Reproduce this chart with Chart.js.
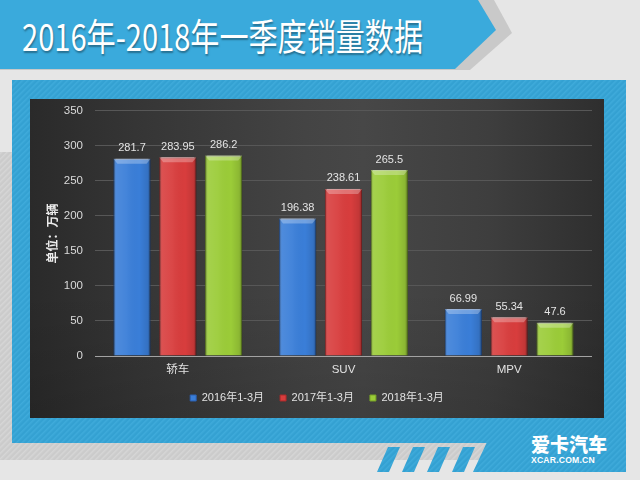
<!DOCTYPE html>
<html>
<head>
<meta charset="utf-8">
<script src="https://cdn.jsdelivr.net/npm/chart.js@4/dist/chart.umd.min.js"></script>
<style>
  html, body { margin:0; padding:0; }
  body { width:640px; height:480px; position:relative; overflow:hidden; background:#e6e6e6; font-family:"Liberation Sans","Noto Sans CJK SC",sans-serif; }
  #deco { position:absolute; left:0; top:0; }
  #title { position:absolute; left:22px; top:15px; height:40px; line-height:40px; white-space:nowrap; color:#fff;
           font-family:"Noto Sans CJK SC","Noto Sans",sans-serif; font-size:37px; font-weight:400;
           text-shadow:1px 2px 2px rgba(0,0,0,0.35); transform-origin:left center; }
  #panel { position:absolute; left:30px; top:99px; width:574px; height:319px;
           background:linear-gradient(90deg,#2a2a2a 0%,#363636 20%,#444444 48%,#474747 58%,#3e3e3e 80%,#2e2e2e 100%); }
  #panel::after { content:""; position:absolute; inset:0; background:linear-gradient(180deg,rgba(0,0,0,0) 60%,rgba(0,0,0,0.12) 100%); pointer-events:none; }
  #wrap { position:absolute; left:30px; top:92px; width:574px; height:326px; }
  #logo1 { position:absolute; left:531px; top:433px; color:#fff; font-family:"Noto Sans CJK SC",sans-serif; font-weight:900; font-size:19px; letter-spacing:0px; line-height:22px; white-space:nowrap; }
  #logo2 { position:absolute; left:531px; top:455px; color:#fff; font-family:"Liberation Sans",sans-serif; font-weight:700; font-size:8.6px; letter-spacing:0.2px; line-height:10px; white-space:nowrap; }
</style>
</head>
<body>
<svg id="deco" width="640" height="480" xmlns="http://www.w3.org/2000/svg">
  <defs>
    <pattern id="hatchGray" width="4" height="4" patternUnits="userSpaceOnUse" patternTransform="rotate(45)">
      <rect width="4" height="4" fill="#cbcbcb"/>
      <rect width="1.5" height="4" fill="#d6d6d6"/>
    </pattern>
    <pattern id="hatchBlue" width="4" height="4" patternUnits="userSpaceOnUse" patternTransform="rotate(45)">
      <rect width="4" height="4" fill="#34a1d2"/>
      <rect width="1.5" height="4" fill="#3fabdb"/>
    </pattern>
  </defs>
  <rect x="0" y="152" width="500" height="308" fill="url(#hatchGray)"/>
  <polygon points="0,0 494,0 512,33 470,70 0,70" fill="#c9c9c9"/>
  <polygon points="0,0 478,0 496,30 455,69 0,69" fill="#3aaadc"/>
  <rect x="12" y="80" width="614" height="363" fill="url(#hatchBlue)"/>
  <polygon points="487,442 626,442 626,472 473,472" fill="url(#hatchBlue)"/>
  <polygon points="377,472 389,472 400,447 388,447" fill="url(#hatchBlue)"/>
  <polygon points="402,472 414,472 425,447 413,447" fill="url(#hatchBlue)"/>
  <polygon points="427,472 439,472 450,447 438,447" fill="url(#hatchBlue)"/>
  <polygon points="452,472 464,472 475,447 463,447" fill="url(#hatchBlue)"/>
</svg>
<div id="title"><span id="titleText">2016年-2018年一季度销量数据</span></div>
<div id="panel"></div>
<div id="wrap"><canvas id="c"></canvas></div>
<div id="logo1">爱卡汽车</div>
<div id="logo2">XCAR.COM.CN</div>
<script>
// ---- data ----
const categories = ['轿车', 'SUV', 'MPV'];
const seriesNames = ['2016年1-3月', '2017年1-3月', '2018年1-3月'];
const sales2016 = [281.7, 196.38, 66.99];
const sales2017 = [283.95, 238.61, 55.34];
const sales2018 = [286.2, 265.5, 47.6];
const yTickValues = [0, 50, 100, 150, 200, 250, 300, 350];
const yAxisTitle = '单位：万辆';

// fit title width
(function(){
  const t = document.getElementById('title');
  const s = document.getElementById('titleText');
  const w = s.getBoundingClientRect().width;
  if (w > 0) t.style.transform = 'scaleX(' + (401 / w) + ')';
})();

const barColors = ['#3a7ed8', '#d83d3d', '#9bcc38'];
const barBorders = ['#2a5fae', '#a82b2b', '#77a126'];
const FONT = '"Liberation Sans","Noto Sans CJK SC",sans-serif';

const bevelPlugin = {
  id: 'bevel',
  afterDatasetsDraw(chart) {
    const ctx = chart.ctx;
    chart.data.datasets.forEach((ds, di) => {
      const meta = chart.getDatasetMeta(di);
      meta.data.forEach((bar, i) => {
        const p = bar.getProps(['x', 'y', 'width', 'base'], true);
        const l = p.x - p.width / 2, r = p.x + p.width / 2, t = p.y, b = p.base;
        ctx.save();
        const g = ctx.createLinearGradient(l, 0, r, 0);
        g.addColorStop(0, 'rgba(0,0,0,0.30)');
        g.addColorStop(0.08, 'rgba(255,255,255,0.10)');
        g.addColorStop(0.35, 'rgba(255,255,255,0.05)');
        g.addColorStop(0.7, 'rgba(0,0,0,0.0)');
        g.addColorStop(0.92, 'rgba(0,0,0,0.10)');
        g.addColorStop(1, 'rgba(0,0,0,0.35)');
        ctx.fillStyle = g;
        ctx.fillRect(l, t, r - l, b - t);
        ctx.beginPath();
        ctx.moveTo(l, t); ctx.lineTo(r, t); ctx.lineTo(r - 4, t + 5); ctx.lineTo(l + 4, t + 5); ctx.closePath();
        ctx.fillStyle = 'rgba(255,255,255,0.28)';
        ctx.fill();
        ctx.fillStyle = 'rgba(255,255,255,0.35)';
        ctx.fillRect(l + 2, t, r - l - 4, 1);
        ctx.restore();

        ctx.save();
        ctx.fillStyle = '#e4e4e4';
        ctx.font = '11px "Liberation Sans", sans-serif';
        ctx.textAlign = 'center';
        ctx.textBaseline = 'bottom';
        ctx.fillText(String(ds.data[i]), p.x, t - 5);
        ctx.restore();
      });
    });
  }
};

new Chart(document.getElementById('c'), {
  type: 'bar',
  data: {
    labels: categories,
    datasets: [
      { label: seriesNames[0], data: sales2016, backgroundColor: barColors[0], borderColor: barBorders[0], borderWidth: 1 },
      { label: seriesNames[1], data: sales2017, backgroundColor: barColors[1], borderColor: barBorders[1], borderWidth: 1 },
      { label: seriesNames[2], data: sales2018, backgroundColor: barColors[2], borderColor: barBorders[2], borderWidth: 1 }
    ]
  },
  options: {
    responsive: true,
    maintainAspectRatio: false,
    animation: false,
    layout: { padding: { top: 0, right: 12, left: 12, bottom: 4.5 } },
    datasets: { bar: { categoryPercentage: 0.83, barPercentage: 0.81 } },
    plugins: {
      tooltip: { enabled: false },
      legend: {
        position: 'bottom',
        labels: {
          color: '#e2e2e2',
          font: { size: 11, family: FONT },
          boxWidth: 6, boxHeight: 6, padding: 16
        }
      }
    },
    scales: {
      x: {
        grid: { display: false, drawTicks: false },
        border: { display: false },
        ticks: { color: '#e2e2e2', font: { size: 11.5, family: FONT }, padding: 6.5 },
        afterFit: (s) => { s.height = 20.5; }
      },
      y: {
        min: 0, max: 350,
        afterBuildTicks: (s) => { s.ticks = yTickValues.map(v => ({ value: v })); },
        grid: { color: (c) => (c.tick && c.tick.value === 0) ? '#a3a3a3' : '#575757', drawTicks: false, lineWidth: 1 },
        border: { display: false },
        ticks: { color: '#dadada', font: { size: 11.5, family: '"Liberation Sans",sans-serif' }, padding: 12 },
        title: { display: true, text: yAxisTitle, color: '#ececec', font: { size: 12, weight: 'bold', family: '"Noto Sans CJK SC",sans-serif' }, padding: { top: 2.8, bottom: 0 } },
        afterFit: (s) => { s.width = 53; }
      }
    }
  },
  plugins: [bevelPlugin]
});
</script>
</body>
</html>
